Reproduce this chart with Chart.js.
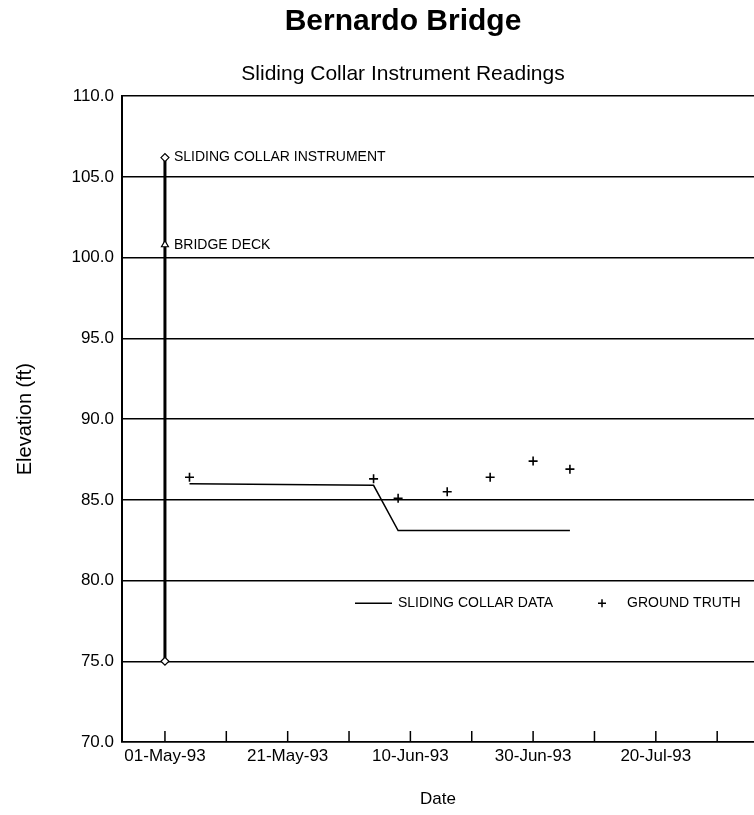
<!DOCTYPE html>
<html>
<head>
<meta charset="utf-8">
<script src="https://cdn.jsdelivr.net/npm/chart.js@4.4.0/dist/chart.umd.min.js"></script>
<style>
  body { margin: 0; background: #fff; }
  #wrap { width: 754px; height: 815px; position: relative; overflow: hidden; }
</style>
</head>
<body>
<div id="wrap"><canvas id="mycanvas" width="806" height="815"></canvas></div>
<script>
// days counted from 01-May-93
var collarDays = [4, 34, 38, 66];
var collarElev = [86.0, 85.9, 83.1, 83.1];

var truthDays = [4, 34, 38, 46, 53, 60, 66];
var truthElev = [86.4, 86.3, 85.1, 85.5, 86.4, 87.4, 86.9];

var instrumentDay = 0;
var instrumentElev = [75.0, 100.8, 106.2];
var instrumentNames = ['', 'BRIDGE DECK', 'SLIDING COLLAR INSTRUMENT'];
var instrumentMarks = ['rectRot', 'triangle', 'rectRot'];

var yTicks = [70, 75, 80, 85, 90, 95, 100, 105, 110];
var months = ['Jan','Feb','Mar','Apr','May','Jun','Jul','Aug','Sep','Oct','Nov','Dec'];
var startDate = Date.UTC(1993, 4, 1);

function dayLabel(d) {
  var dt = new Date(startDate + d * 86400000);
  var dd = String(dt.getUTCDate()).padStart(2, '0');
  return dd + '-' + months[dt.getUTCMonth()] + '-' + String(dt.getUTCFullYear()).slice(2);
}

var FONT = '"Liberation Sans", Arial, Helvetica, sans-serif';

var collarData = [];
for (var i in collarDays) collarData.push({x: collarDays[i], y: collarElev[i]});
var truthData = [];
for (var i in truthDays) truthData.push({x: truthDays[i], y: truthElev[i]});
var instData = [];
for (var i in instrumentElev) instData.push({x: instrumentDay, y: instrumentElev[i]});

// small inward tick marks on the date axis, labels beside the instrument, and the in-plot key
var extras = {
  id: 'extras',
  afterDraw: function(chart) {
    var ctx = chart.ctx;
    var xs = chart.scales.x, ys = chart.scales.y;
    var area = chart.chartArea;
    ctx.save();
    ctx.strokeStyle = '#000';
    ctx.lineWidth = 1.5;
    xs.ticks.forEach(function(t) {
      var px = xs.getPixelForValue(t.value);
      ctx.beginPath();
      ctx.moveTo(px, area.bottom);
      ctx.lineTo(px, area.bottom - 11);
      ctx.stroke();
    });

    ctx.fillStyle = '#000';
    ctx.font = '14px ' + FONT;
    ctx.textBaseline = 'middle';
    ctx.textAlign = 'left';
    for (var i in instrumentElev) {
      if (!instrumentNames[i]) continue;
      ctx.fillText(instrumentNames[i], xs.getPixelForValue(instrumentDay) + 9, ys.getPixelForValue(instrumentElev[i]));
    }

    // key
    var ky = ys.getPixelForValue(78.6);
    var kx = area.left + 233;
    ctx.lineWidth = 1.5;
    ctx.beginPath();
    ctx.moveTo(kx, ky);
    ctx.lineTo(kx + 37, ky);
    ctx.stroke();
    ctx.fillText('SLIDING COLLAR DATA', kx + 43, ky);
    var px = kx + 247;
    ctx.beginPath();
    ctx.moveTo(px - 4, ky); ctx.lineTo(px + 4, ky);
    ctx.moveTo(px, ky - 4); ctx.lineTo(px, ky + 4);
    ctx.stroke();
    ctx.fillText('GROUND TRUTH', kx + 272, ky);
    ctx.restore();
  }
};

var ctx = document.getElementById('mycanvas');
var chart = new Chart(ctx, {
  type: 'scatter',
  data: {
    datasets: [
      {
        label: 'Instrument',
        data: instData,
        showLine: true,
        borderColor: '#000',
        borderWidth: 3,
        pointStyle: instrumentMarks,
        pointRadius: 4,
        pointBorderWidth: 1.2,
        pointBorderColor: '#000',
        pointBackgroundColor: '#fff'
      },
      {
        label: 'SLIDING COLLAR DATA',
        data: collarData,
        showLine: true,
        borderColor: '#000',
        borderWidth: 1.5,
        pointRadius: 0
      },
      {
        label: 'GROUND TRUTH',
        data: truthData,
        showLine: false,
        pointStyle: 'cross',
        pointRadius: 4.5,
        pointBorderWidth: 1.6,
        pointBorderColor: '#000'
      }
    ]
  },
  options: {
    responsive: false,
    animation: false,
    layout: { padding: 0 },
    plugins: {
      legend: { display: false },
      tooltip: { enabled: false },
      title: {
        display: true,
        text: 'Bernardo Bridge',
        color: '#000',
        font: { family: FONT, size: 30, weight: 'bold' },
        padding: { top: 4, bottom: 0 }
      },
      subtitle: {
        display: true,
        text: 'Sliding Collar Instrument Readings',
        color: '#000',
        font: { family: FONT, size: 21 },
        padding: { top: 22, bottom: 9 }
      }
    },
    scales: {
      x: {
        type: 'linear',
        min: -7,
        max: 96,
        afterFit: function(s) { s.height = 73; },
        border: { display: true, color: '#000', width: 1.5 },
        grid: { display: false, drawTicks: false },
        ticks: {
          stepSize: 10,
          autoSkip: false,
          includeBounds: false,
          maxRotation: 0,
          padding: 4,
          color: '#000',
          font: { family: FONT, size: 17 },
          callback: function(v) { return v % 20 === 0 ? dayLabel(v) : ''; }
        },
        title: {
          display: true,
          text: 'Date',
          color: '#000',
          font: { family: FONT, size: 17 },
          padding: { top: 0, bottom: 5 }
        }
      },
      y: {
        min: 70,
        max: 110,
        afterFit: function(s) { s.width = 122; },
        afterBuildTicks: function(s) { s.ticks = yTicks.map(function(v) { return {value: v}; }); },
        border: { display: true, color: '#000', width: 2 },
        grid: { color: '#000', lineWidth: 1.5, drawTicks: false },
        ticks: {
          padding: 8,
          color: '#000',
          font: { family: FONT, size: 17 },
          callback: function(v) { return v.toFixed(1); }
        },
        title: {
          display: true,
          text: 'Elevation (ft)',
          color: '#000',
          font: { family: FONT, size: 20 },
          padding: { top: 13, bottom: 0 }
        }
      },
      // empty right-hand strip: the plot runs past the visible edge, as in the scanned page
      y2: {
        position: 'right',
        afterFit: function(s) { s.width = 52; },
        border: { display: false },
        grid: { display: false, drawTicks: false },
        ticks: { display: false }
      }
    }
  },
  plugins: [extras]
});
</script>
</body>
</html>
